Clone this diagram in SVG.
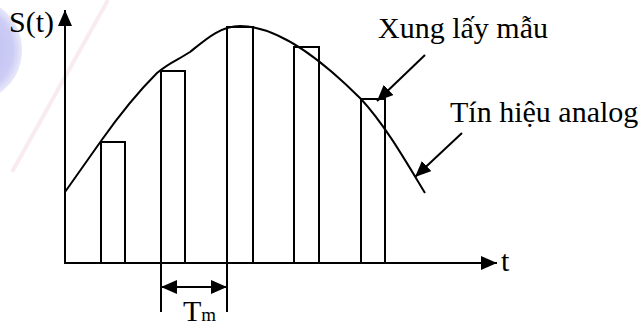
<svg xmlns="http://www.w3.org/2000/svg" width="642" height="325" viewBox="0 0 642 325">
<defs>
<marker id="ah" viewBox="0 0 16 14" refX="16" refY="7" markerWidth="16" markerHeight="14" markerUnits="userSpaceOnUse" orient="auto">
<path d="M0,0 L16,7 L0,14 Z" fill="#000"/>
</marker>
<marker id="ahs" viewBox="0 0 16 14" refX="16" refY="7" markerWidth="16" markerHeight="14" markerUnits="userSpaceOnUse" orient="auto-start-reverse">
<path d="M0,0 L16,7 L0,14 Z" fill="#000"/>
</marker>
<radialGradient id="wm" cx="0.5" cy="0.5" r="0.5">
<stop offset="0" stop-color="#b4b4f0"/>
<stop offset="0.8" stop-color="#c6c6f4"/>
<stop offset="1" stop-color="#e6e6fa"/>
</radialGradient>
</defs>
<style>
.ln{fill:none;stroke:#000;stroke-width:2}
.pulse{fill:none;stroke:#000;stroke-width:2}
text{fill:#000}
</style>
<rect width="642" height="325" fill="#fff"/>
<g id="watermark">
<ellipse cx="-24" cy="50" rx="46" ry="50" fill="url(#wm)" opacity="0.9"/>
<line x1="108" y1="0" x2="12" y2="172" stroke="#f6e0e6" stroke-width="4" opacity="0.6"/>
</g>
<g id="axes">
<line class="ln" x1="65" y1="264" x2="65" y2="10" marker-end="url(#ah)"/>
<line class="ln" x1="64" y1="263" x2="497" y2="263" marker-end="url(#ah)"/>
<text font-family="Liberation Serif, DejaVu Serif, serif" x="9" y="32" font-size="30">S(t)</text>
<text font-family="Liberation Serif, DejaVu Serif, serif" x="501" y="271" font-size="30">t</text>
</g>
<g id="pulses">
<rect class="pulse" x="101" y="142" width="24" height="121"/>
<rect class="pulse" x="161" y="71" width="24" height="192"/>
<rect class="pulse" x="227" y="27" width="26" height="236"/>
<rect class="pulse" x="294" y="47" width="25" height="216"/>
<rect class="pulse" x="361" y="99" width="24" height="164"/>
</g>
<g id="signal">
<path class="ln" d="M65,192 L101,141 C 113,124 135,95 157,73 C 170,62 178,60 190,52 C 205,40 220,26 240,26 C 285,26 335,73 361,99 C 385,125 405,160 425,193"/>
</g>
<g id="period">
<line class="ln" x1="161" y1="263" x2="161" y2="312"/>
<line class="ln" x1="227" y1="263" x2="227" y2="312"/>
<line class="ln" x1="161" y1="287" x2="227" y2="287" marker-start="url(#ahs)" marker-end="url(#ah)"/>
<text font-family="Liberation Serif, DejaVu Serif, serif" x="183" y="321" font-size="30">T<tspan font-size="19">m</tspan></text>
</g>
<g id="connectors">
<line class="ln" x1="425" y1="55" x2="377" y2="101" marker-end="url(#ah)"/>
<line class="ln" x1="462" y1="133" x2="415" y2="177" marker-end="url(#ah)"/>
</g>
<g id="labels">
<text font-family="Liberation Serif, DejaVu Serif, serif" x="378" y="38" font-size="30">Xung lấy mẫu</text>
<text font-family="Liberation Serif, DejaVu Serif, serif" x="450" y="122" font-size="30">Tín hiệu analog</text>
</g>
</svg>
